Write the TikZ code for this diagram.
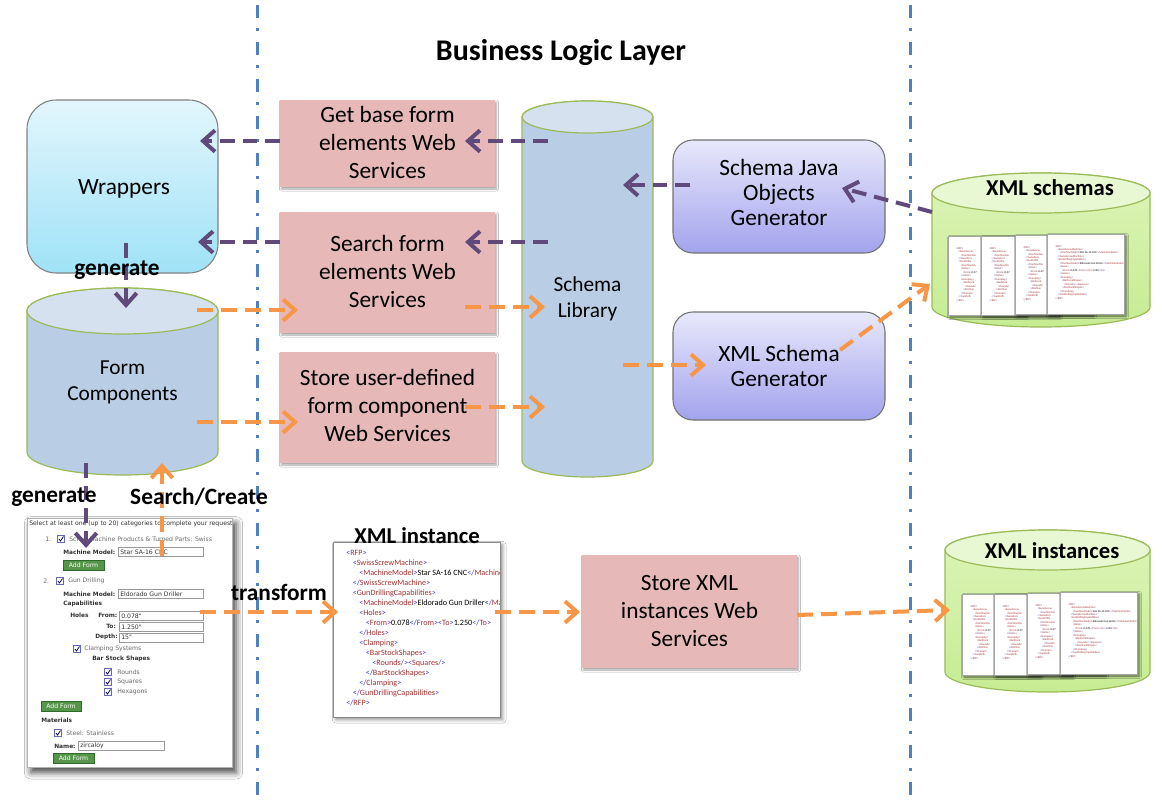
\documentclass[tikz,border=0pt]{standalone}
\usepackage{fontspec}
\setmainfont{Carlito}
\newfontfamily\formfont{DejaVu Sans}
\usetikzlibrary{arrows.meta,shadows.blur,fit}

\definecolor{divline}{HTML}{4F81BD}
\definecolor{purplearr}{HTML}{604A7B}
\definecolor{orangearr}{HTML}{F79646}
\definecolor{pinkfill}{HTML}{E6B9B8}
\definecolor{cylbody}{HTML}{B9CDE5}
\definecolor{cyltop}{HTML}{D5E1EF}
\definecolor{cyledge}{HTML}{9BBB59}
\definecolor{greenbody}{HTML}{DDF4B8}
\definecolor{greenlow}{HTML}{C6EC93}
\definecolor{greentop}{HTML}{E7F8D2}
\definecolor{wraptop}{HTML}{E2F6FC}
\definecolor{wrapbot}{HTML}{9FE2F7}
\definecolor{gentop}{HTML}{E8E8FB}
\definecolor{genbot}{HTML}{A3A3EE}
\definecolor{xb}{HTML}{3A3AD0}
\definecolor{xr}{HTML}{A33030}
\definecolor{btngreen}{HTML}{55964A}
\definecolor{btnedge}{HTML}{2F6A2A}
\definecolor{formtext}{HTML}{333333}
\definecolor{formgray}{HTML}{6A6A6A}

% XML listing pieces: blue brackets, red tag names
\newcommand\xo[1]{\textcolor{xb}{<}\textcolor{xr}{#1}\textcolor{xb}{>}}
\newcommand\xc[1]{\textcolor{xb}{</}\textcolor{xr}{#1}\textcolor{xb}{>}}
\newcommand\xe[1]{\textcolor{xb}{<}\textcolor{xr}{#1}\textcolor{xb}{/>}}
\newcommand\xs[1]{\textcolor{xb}{<}\textcolor{xr}{#1}}
\newcommand\xcs[1]{\textcolor{xb}{</}\textcolor{xr}{#1}}
\newcommand\xind[1]{\hspace*{#1\dimexpr0.8em\relax}}
\newcommand\xmlbody{%
\xo{RFP}\\
\xind1\xo{SwissScrewMachine}\\
\xind2\xo{MachineModel}Star SA-16 CNC\xc{MachineModel}\\
\xind1\xc{SwissScrewMachine}\\
\xind1\xo{GunDrillingCapabilities}\\
\xind2\xo{MachineModel}Eldorado Gun Driller\xc{MachineModel}\\
\xind2\xo{Holes}\\
\xind3\xo{From}0.078\xc{From}\xo{To}1.250\xc{To}\\
\xind2\xc{Holes}\\
\xind2\xo{Clamping}\\
\xind3\xo{BarStockShapes}\\
\xind4\xe{Rounds}\xe{Squares}\\
\xind3\xc{BarStockShapes}\\
\xind2\xc{Clamping}\\
\xind1\xc{GunDrillingCapabilities}\\
\xc{RFP}}
% the part of the listing left in view on a page that lies under the next one
\newcommand\xmlpart{%
\xo{RFP}\\
\xind1\xs{SwissScrew}\\
\xind2\xs{MachineMo}\\
\xind1\xcs{SwissScre}\\
\xind1\xs{GunDrillin}\\
\xind2\xs{MachineMo}\\
\xind2\xo{Holes}\\
\xind3\xo{From}0.07\\
\xind2\xc{Holes}\\
\xind2\xo{Clamping}\\
\xind3\xs{BarStock}\\
\xind4\xs{Rounds/}\\
\xind3\xcs{BarStoc}\\
\xind2\xcs{Clampin}\\
\xind1\xcs{GunDrilli}\\
\xc{RFP}}

% small form widgets
\newcommand\chkbox[2]{%
  \draw[cbx] (#1-3.5,#2-3.5) rectangle (#1+3.5,#2+3.5);
  \draw[chk] (#1-2,#2) -- (#1-0.5,#2+2) -- (#1+2.5,#2-2.5);}
\newcommand\formfield[5]{%
  \draw[fld] (#2,#4-4.5) rectangle (#3,#4+4.5);
  \node[ff] (#1) at (#2+2,#4) {#5};}
\newcommand\addbtn[4]{%
  \draw[btn] (#2,#4-5) rectangle (#3,#4+5);
  \node[btntxt] (#1) at ({(#2+#3)/2},#4) {Add Form};}
% a small page of XML inside a store: name, left, top, height, listing
\newcommand\xmlpage[5]{%
  \node[page, fit={(#2,#3) (#2+77,#3+#4)}] (#1) {};
  \node[tinyxml] (#1-txt) at (#2+8,#3+11) {#5};}

\begin{document}
\begin{tikzpicture}[x=0.75pt,y=-0.75pt,
  divider/.style={draw=divline,line width=2.25pt,dash pattern=on 9.75pt off 7.5pt on 2.25pt off 8.25pt},
  parr/.style={draw=purplearr,line width=3pt,dash pattern=on 11pt off 6pt,-{Straight Barb[length=9pt,width=16pt]}},
  oarr/.style={draw=orangearr,line width=3pt,dash pattern=on 12pt off 6pt,-{Straight Barb[length=9pt,width=16pt]}},
  pinkbox/.style={fill=pinkfill,inner sep=0pt,
    blur shadow={shadow xshift=1pt,shadow yshift=-1.5pt,shadow blur radius=1.5pt,shadow opacity=35}},
  genbox/.style={draw=black!55,line width=0.8pt,rounded corners=15pt,top color=gentop,bottom color=genbot,inner sep=0pt},
  wrapbox/.style={draw=black!50,line width=0.8pt,rounded corners=22pt,top color=wraptop,bottom color=wrapbot,inner sep=0pt},
  boxtext/.style={align=center,font=\fontsize{17.5}{21}\selectfont},
  gentext/.style={align=center,font=\fontsize{17.5}{18.75}\selectfont},
  cylside/.style={draw=cyledge,line width=0.9pt,fill=#1},
  cyltext/.style={align=center,font=\fontsize{16}{19.5}\selectfont},
  boldlbl/.style={font=\bfseries\fontsize{17.5}{20}\selectfont,inner sep=0pt},
  page/.style={draw=black!35,line width=0.4pt,fill=white,inner sep=0pt,
    blur shadow={shadow xshift=1.5pt,shadow yshift=-1.5pt,shadow blur radius=2pt,shadow opacity=60}},
  tinyxml/.style={anchor=north west,inner sep=0pt,align=left,font=\fontsize{2.1}{2.6}\selectfont},
  ff/.style={anchor=west,inner sep=0pt,text=formtext,font=\formfont\fontsize{4.6}{5.5}\selectfont},
  ffb/.style={ff,font=\formfont\bfseries\fontsize{4.4}{5.5}\selectfont},
  ffg/.style={ff,text=formgray},
  fld/.style={draw=black!40,fill=white,line width=0.4pt},
  btn/.style={draw=btnedge,fill=btngreen,line width=0.4pt},
  btntxt/.style={inner sep=0pt,text=white,font=\formfont\fontsize{4.6}{5}\selectfont},
  cbx/.style={draw=black!45!blue!60,fill=white,line width=0.4pt},
  chk/.style={draw=blue!40!black,line width=0.6pt}]

\useasboundingbox[fill=white] (0,0) rectangle (1162,799);

% layer boundaries
\draw[divider] (257,5) -- (257,799);
\draw[divider] (910,5) -- (910,799);

\node[font=\bfseries\fontsize{22.5}{26}\selectfont] (title) at (561,53) {Business Logic Layer};

% presentation layer
\node[wrapbox, fit={(27,100) (218,273)}] (wrap) {};
\node[boxtext] (wrap-txt) at (124,189) {Wrappers};

\path[cylside=cylbody] (27,311) -- (27,452) arc[start angle=180,end angle=0,x radius=95.5,y radius=23]
  -- (218,311) arc[start angle=0,end angle=-180,x radius=95.5,y radius=23] -- cycle;
\path[cylside=cyltop] (122.5,311) ellipse[x radius=95.5,y radius=23];
\node[cyltext] (formcomp) at (122.5,382) {Form\\Components};

% web services
\node[pinkbox, fit={(280,100) (495,187)}] (get) {};
\node[boxtext] (get-txt) at (387.5,142.5) {Get base form\\elements Web\\Services};
\node[pinkbox, fit={(280,212) (495,333)}] (search) {};
\node[boxtext] (search-txt) at (387.5,271.5) {Search form\\elements Web\\Services};
\node[pinkbox, fit={(280,352) (495,463)}] (store) {};
\node[boxtext] (store-txt) at (387.5,405.5) {Store user-defined\\form component\\Web Services};
\node[pinkbox, fit={(582,555) (797,668)}] (storexml) {};
\node[boxtext] (storexml-txt) at (689.5,611) {Store XML\\instances Web\\Services};

% schema library
\path[cylside=cylbody] (522,117) -- (522,461) arc[start angle=180,end angle=0,x radius=65.5,y radius=16]
  -- (653,117) arc[start angle=0,end angle=-180,x radius=65.5,y radius=16] -- cycle;
\path[cylside=cyltop] (587.5,117) ellipse[x radius=65.5,y radius=16];
\node[cyltext] (lib) at (587.5,299) {Schema\\Library};

% generators
\node[genbox, fit={(673,140) (885,253)}] (javagen) {};
\node[gentext] (javagen-txt) at (779,192) {Schema Java\\Objects\\Generator};
\node[genbox, fit={(673,312) (885,420)}] (xmlgen) {};
\node[gentext] (xmlgen-txt) at (779,366) {XML Schema\\Generator};

% XML schema store
\path[cylside=greenbody, top color=greenbody, bottom color=greenlow] (932,193) -- (932,307)
  arc[start angle=180,end angle=0,x radius=109,y radius=20]
  -- (1150,193) arc[start angle=0,end angle=-180,x radius=109,y radius=20] -- cycle;
\path[cylside=greentop] (1041,193) ellipse[x radius=109,y radius=20];
\node[boldlbl, font=\bfseries\fontsize{17}{20}\selectfont] (schemas) at (1050,188) {XML schemas};
\xmlpage{sp1}{948}{236}{79}{\xmlpart}
\xmlpage{sp2}{981}{236}{79}{\xmlpart}
\xmlpage{sp3}{1015}{235}{79}{\xmlpart}
\xmlpage{sp4}{1047}{234}{80}{\xmlbody}

% XML instance store
\path[cylside=greenbody, top color=greenbody, bottom color=greenlow] (945,550) -- (945,672)
  arc[start angle=180,end angle=0,x radius=102.5,y radius=20]
  -- (1150,550) arc[start angle=0,end angle=-180,x radius=102.5,y radius=20] -- cycle;
\path[cylside=greentop] (1047.5,550) ellipse[x radius=102.5,y radius=20];
\node[boldlbl, font=\bfseries\fontsize{17}{20}\selectfont] (instances) at (1052,551) {XML instances};
\xmlpage{ip1}{962}{594}{81}{\xmlpart}
\xmlpage{ip2}{994}{594}{81}{\xmlpart}
\xmlpage{ip3}{1027}{593}{81}{\xmlpart}
\xmlpage{ip4}{1060}{592}{82}{\xmlbody}

% XML instance document
\node[draw=black!45,line width=0.6pt,fill=white,inner sep=0pt,fit={(333,542) (500,717)},
  blur shadow={shadow xshift=2pt,shadow yshift=-2pt,shadow blur radius=2.5pt,shadow opacity=45}] (xmlinst) {};
\begin{scope}
  \clip (334,543) rectangle (499,716);
  \node[anchor=north west,inner sep=0pt,align=left,font=\fontsize{6.1}{7.5}\selectfont] (xmlinst-txt) at (346,550.5) {\xmlbody};
\end{scope}
\node[boldlbl, font=\bfseries\fontsize{17}{20}\selectfont] (xmlinst-title) at (417,536) {XML instance};

% generated web form
\node[draw=black!30,fill=white,inner sep=0pt,fit={(27,518) (232,767)},
  blur shadow={shadow xshift=3pt,shadow yshift=-4pt,shadow blur radius=5pt,shadow opacity=75}] (shot) {};
\begin{scope}
\clip (27,518) rectangle (232,767);
\node[ff] (s1) at (29,524) {Select at least one (up to 20) categories to complete your request};
\node[ffg] (s2) at (45,539) {1.};
\chkbox{61}{539}
\node[ffg] (s3) at (69,539) {Screw Machine Products \& Turned Parts: Swiss};
\node[ffb] (s4) at (63,552) {Machine Model:};
\formfield{f1}{118}{203}{552}{Star SA-16 CNC}
\addbtn{b1}{63}{104}{565}
\node[ffg] (s5) at (43,581) {2.};
\chkbox{60}{581}
\node[ffg] (s6) at (68,581) {Gun Drilling};
\node[ffb] (s7) at (63,594) {Machine Model:};
\formfield{f2}{118}{203}{594}{Eldorado Gun Driller}
\node[ffb] (s8) at (63,604) {Capabilities};
\node[ffb] (s9) at (70,615) {Holes};
\node[ffb] (s10) at (98,615) {From:};
\formfield{f3}{119}{203}{616}{0.078"}
\node[ffb] (s11) at (106,626) {To:};
\formfield{f4}{119}{203}{627}{1.250"}
\node[ffb] (s12) at (95,637) {Depth:};
\formfield{f5}{119}{203}{637.5}{15"}
\chkbox{77}{649}
\node[ffg] (s13) at (84,649) {Clamping Systems};
\node[ffb] (s14) at (92,659) {Bar Stock Shapes};
\chkbox{108}{672}
\node[ffg] (s15) at (117,672) {Rounds};
\chkbox{108}{682}
\node[ffg] (s16) at (117,682) {Squares};
\chkbox{108}{692}
\node[ffg] (s17) at (117,692) {Hexagons};
\addbtn{b2}{41}{81}{706.5}
\node[ffb] (s18) at (41,720) {Materials};
\chkbox{58}{733}
\node[ffg] (s19) at (66,733) {Steel: Stainless};
\node[ffb] (s20) at (54,746) {Name:};
\formfield{f6}{78}{164}{746}{zircaloy}
\addbtn{b3}{53}{94}{758.5}
\end{scope}

% connector end points
\coordinate (lib-o1) at (548,141);   \coordinate (get-i) at (465,141);
\coordinate (get-o) at (280,141);    \coordinate (wrap-i1) at (200,141);
\coordinate (lib-o2) at (548,242);   \coordinate (search-i) at (465,242);
\coordinate (search-o) at (280,242); \coordinate (wrap-i2) at (198,242);
\coordinate (javagen-o) at (690,185); \coordinate (lib-i0) at (623,185);
\coordinate (schemas-o) at (932,212); \coordinate (javagen-i) at (842,188);
\coordinate (wrap-o) at (126,243);   \coordinate (formcomp-i) at (126,308);
\coordinate (formcomp-o) at (86,463); \coordinate (shot-i) at (86,548);
\coordinate (shot-o) at (162,556);   \coordinate (formcomp-i2) at (162,463);
\coordinate (formcomp-o1) at (197,310); \coordinate (search-i2) at (298,310);
\coordinate (formcomp-o2) at (197,422); \coordinate (store-i) at (298,422);
\coordinate (search-o2) at (465,307); \coordinate (lib-i1) at (545,307);
\coordinate (store-o) at (465,407);  \coordinate (lib-i2) at (545,407);
\coordinate (lib-o3) at (623,365);   \coordinate (xmlgen-i) at (706,365);
\coordinate (xmlgen-o) at (840,350); \coordinate (schemas-i) at (930,284);
\coordinate (shot-o2) at (200,612);  \coordinate (xmlinst-i) at (338,612);
\coordinate (xmlinst-o) at (495,612); \coordinate (storexml-i) at (580,612);
\coordinate (storexml-o) at (797,615); \coordinate (instances-i) at (950,610);

% purple: generation / retrieval flow
\draw[parr] (lib-o1) -- (get-i);
\draw[parr] (get-o) -- (wrap-i1);
\draw[parr] (lib-o2) -- (search-i);
\draw[parr] (search-o) -- (wrap-i2);
\draw[parr] (javagen-o) -- (lib-i0);
\draw[parr] (schemas-o) -- (javagen-i);
\draw[parr] (wrap-o) -- (formcomp-i);
\draw[parr] (formcomp-o) -- (shot-i);

% orange: storage / transformation flow
\draw[oarr] (shot-o) -- (formcomp-i2);
\draw[oarr] (formcomp-o1) -- (search-i2);
\draw[oarr] (formcomp-o2) -- (store-i);
\draw[oarr] (search-o2) -- (lib-i1);
\draw[oarr] (store-o) -- (lib-i2);
\draw[oarr] (lib-o3) -- (xmlgen-i);
\draw[oarr] (xmlgen-o) -- (schemas-i);
\draw[oarr] (shot-o2) -- (xmlinst-i);
\draw[oarr] (xmlinst-o) -- (storexml-i);
\draw[oarr] (storexml-o) -- (instances-i);

% connector labels
\node[boldlbl] (gen1) at (117,270) {generate};
\node[boldlbl] (gen2) at (54,497) {generate};
\node[boldlbl] (srch) at (199,497) {Search/Create};
\node[boldlbl] (trans) at (279,592) {transform};
\end{tikzpicture}
\end{document}
